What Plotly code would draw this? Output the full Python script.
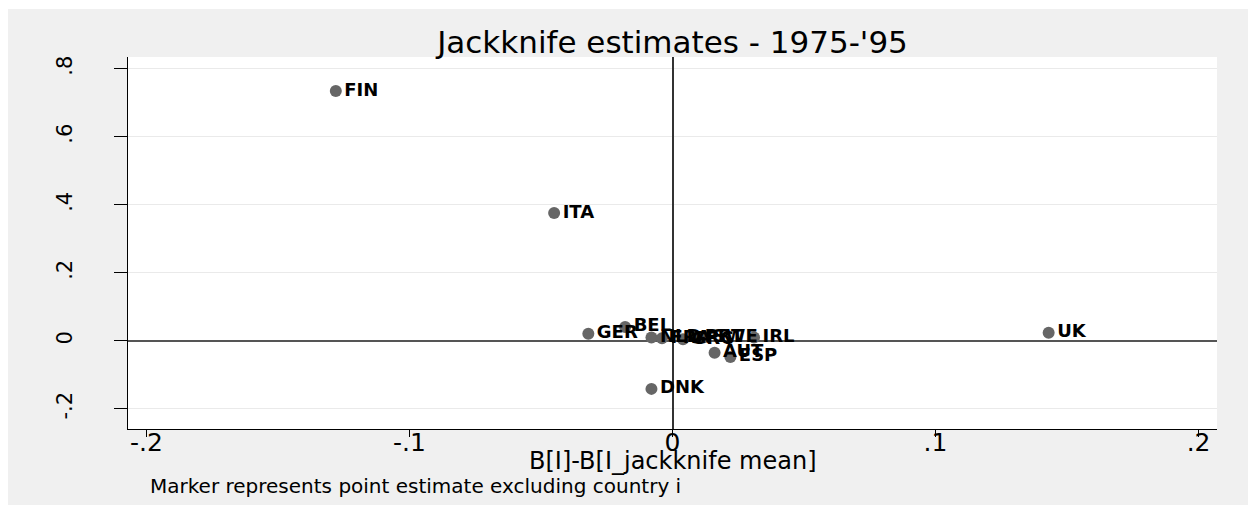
import plotly.graph_objects as go

countries = ["FIN", "ITA", "BEL", "GER", "NLD", "FRA", "GRC", "PRT", "SWE", "IRL", "AUT", "ESP", "DNK", "UK"]
x_vals = [-0.128, -0.045, -0.018, -0.032, -0.008, -0.004, 0.004, 0.009, 0.012, 0.031, 0.016, 0.022, -0.008, 0.143]
y_vals = [0.735, 0.376, 0.041, 0.021, 0.010, 0.008, 0.005, 0.009, 0.011, 0.010, -0.035, -0.047, -0.141, 0.024]

x_ticks = [-0.2, -0.1, 0, 0.1, 0.2]
x_ticktext = ["-.2", "-.1", "0", ".1", ".2"]
y_ticks = [-0.2, 0, 0.2, 0.4, 0.6, 0.8]
y_ticktext = ["-.2", "0", ".2", ".4", ".6", ".8"]

# page has an 8px body margin, so the figure sits at (8, 8)
OFF = 8
W, H = 1256 - OFF, 505 - OFF
L, R, T, B = 128 - OFF, 39, 57 - OFF, 76
pw, ph = W - L - R, H - T - B
FONT = "DejaVu Sans"

def py(page_y):
    # page pixel y -> paper y
    return (H - B - (page_y - OFF)) / ph

def px(page_x):
    return (page_x - OFF - L) / pw

fig = go.Figure()
fig.add_trace(go.Scatter(
    x=x_vals, y=y_vals, mode="markers+text", text=countries,
    textposition="middle right",
    textfont=dict(family=FONT, size=18, color="black", weight="bold"),
    marker=dict(color="#666666", size=12),
    hoverinfo="text", showlegend=False,
))

fig.add_shape(type="rect", xref="paper", yref="paper", layer="below",
              x0=px(0), x1=px(1250), y0=py(520), y1=py(9),
              fillcolor="#f0f0f0", line=dict(width=0))
fig.add_shape(type="rect", xref="paper", yref="paper", layer="below",
              x0=0, x1=1, y0=0, y1=1, fillcolor="white", line=dict(width=0))

fig.update_layout(
    width=W, height=H,
    margin=dict(l=L, r=R, t=T, b=B, autoexpand=False),
    paper_bgcolor="white", plot_bgcolor="white",
    font=dict(family=FONT, color="black"),
    title=dict(text="Jackknife estimates - 1975-'95", x=(L + pw / 2) / W, xanchor="center",
               y=1 - (42 - OFF) / H, yanchor="middle", font=dict(family=FONT, size=31, color="black")),
    annotations=[
        dict(text="B[I]-B[I_jackknife mean]", xref="paper", yref="paper",
             x=0.5, y=py(461), xanchor="center", yanchor="middle",
             showarrow=False, font=dict(family=FONT, size=24, color="black")),
        dict(text="Marker represents point estimate excluding country i",
             xref="paper", yref="paper", x=px(148), y=py(486),
             xanchor="left", yanchor="middle", showarrow=False,
             font=dict(family=FONT, size=20, color="black")),
    ],
)
fig.update_xaxes(range=[-0.207, 0.207], tickvals=x_ticks, ticktext=x_ticktext,
                 tickfont=dict(family=FONT, size=25), ticks="outside", ticklen=7, tickcolor="black",
                 ticklabelstandoff=-16,
                 showline=True, linecolor="black", linewidth=1, showgrid=False,
                 zeroline=True, zerolinecolor="#333333", zerolinewidth=2,
                 automargin=False)
fig.update_yaxes(range=[-0.259, 0.835], tickvals=y_ticks, ticktext=y_ticktext,
                 tickfont=dict(family=FONT, size=21), tickangle=-90, ticks="outside", ticklen=13,
                 ticklabelstandoff=34,
                 tickcolor="black", showline=True, linecolor="black", linewidth=1,
                 showgrid=True, gridcolor="#eaeaea", gridwidth=1,
                 zeroline=True, zerolinecolor="#555555", zerolinewidth=1.5,
                 automargin=False)

fig.write_html("out.html")
